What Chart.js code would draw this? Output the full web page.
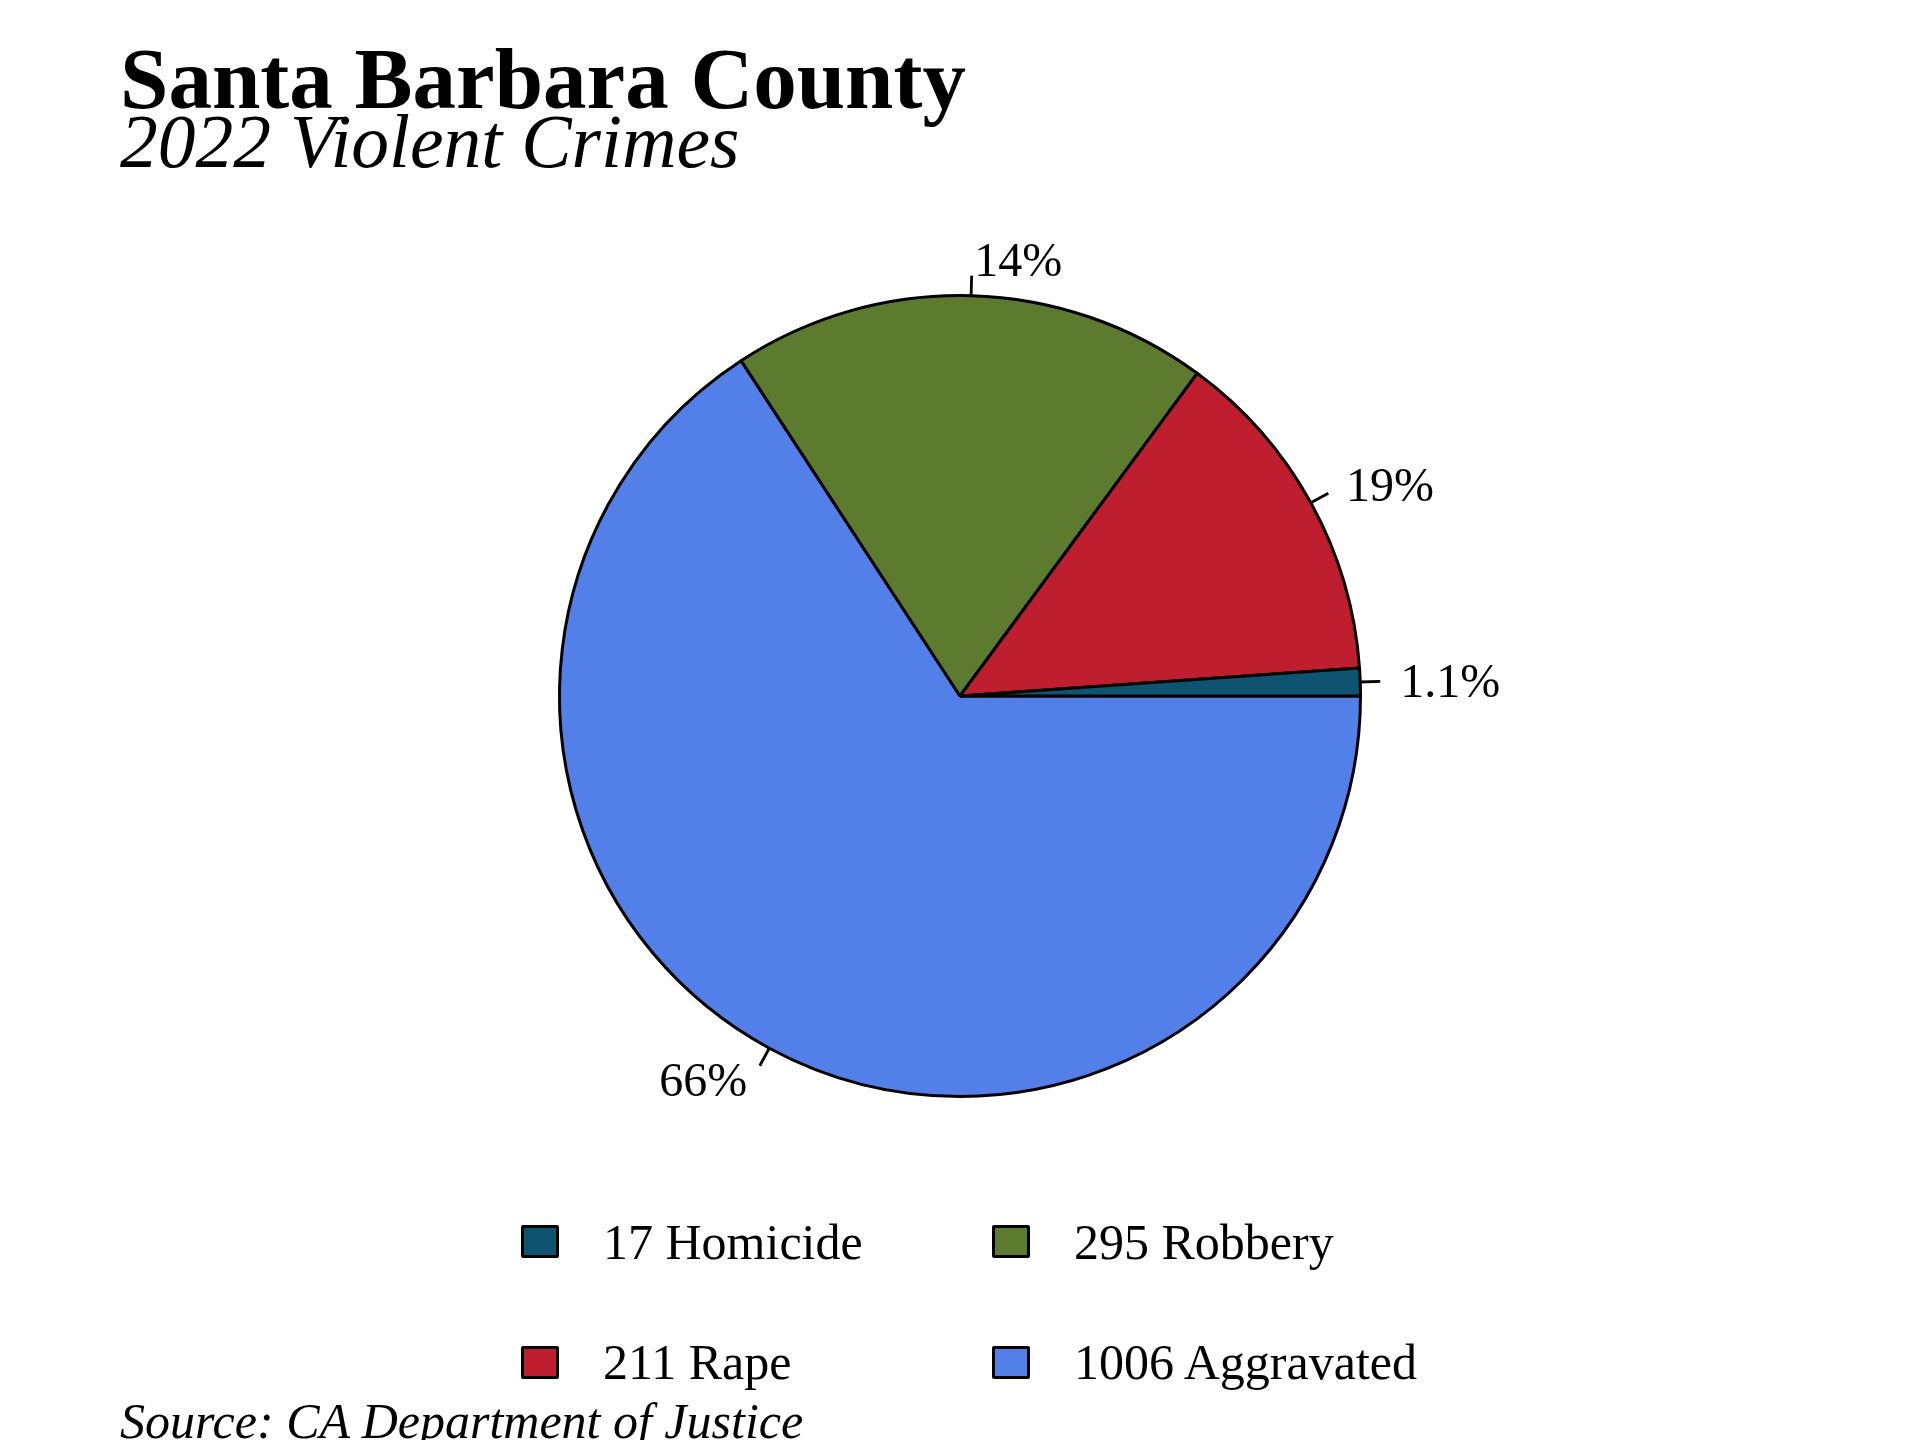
<!DOCTYPE html>
<html>
<head>
<meta charset="utf-8">
<script src="https://cdn.jsdelivr.net/npm/chart.js@4"></script>
<style>
  html, body { margin: 0; padding: 0; background: #fff; }
  #wrap { position: relative; width: 1920px; height: 1440px; overflow: hidden; background: #fff; }
  #c { position: absolute; left: 0; top: 0; }
  .txt { position: absolute; font-family: "Liberation Serif", "Times New Roman", serif; color: #000; line-height: 1; white-space: nowrap; }
  .box { position: absolute; box-sizing: border-box; border: 3px solid #000; border-radius: 2px; }
</style>
</head>
<body>
<div id="wrap">
  <canvas id="c" width="1920" height="1440"></canvas>
  <div class="txt" style="left:120px; top:35px; font-size:87px; font-weight:bold;">Santa Barbara County</div>
  <div class="txt" style="left:120px; top:104px; font-size:75.5px; font-style:italic;">2022 Violent Crimes</div>
  <div class="txt" style="left:120px; top:1396px; font-size:50px; font-style:italic;">Source: CA Department of Justice</div>
  <div id="legend"></div>
</div>
<script>
// ---- data (counter-clockwise from 3 o'clock, as drawn in the reference) ----
const categories = ['Homicide', 'Rape', 'Robbery', 'Aggravated'];
const counts = [17, 211, 295, 1006];
const sliceLabels = ['1.1%', '19%', '14%', '66%'];
const legendOrder = ['Homicide', 'Robbery', 'Rape', 'Aggravated'];

// ---- styles ----
const colorMap = {
  'Homicide': '#0E5470',
  'Rape': '#BE1E2D',
  'Robbery': '#5D7B2F',
  'Aggravated': '#5280E8'
};

// Chart.js draws clockwise, so reverse to get the counter-clockwise order
const drawCats = categories.slice().reverse();
const drawVals = counts.slice().reverse();
const drawLbls = sliceLabels.slice().reverse();

const labelFont = '48px "Liberation Serif", "Times New Roman", serif';

const pctLabelPlugin = {
  id: 'pctLabels',
  afterDatasetsDraw(chart) {
    const ctx = chart.ctx;
    const meta = chart.getDatasetMeta(0);
    ctx.save();
    ctx.font = labelFont;
    ctx.fillStyle = '#000';
    ctx.strokeStyle = '#000';
    ctx.lineWidth = 2.8;
    ctx.textBaseline = 'alphabetic';
    meta.data.forEach((arc, i) => {
      const p = arc.getProps(['x', 'y', 'startAngle', 'endAngle', 'outerRadius'], true);
      const mid = (p.startAngle + p.endAngle) / 2;
      const c = Math.cos(mid), s = Math.sin(mid);
      const r0 = p.outerRadius, r1 = p.outerRadius + 20;
      const x0 = p.x + c * r0, y0 = p.y + s * r0;
      const x1 = p.x + c * r1, y1 = p.y + s * r1;
      ctx.beginPath();
      ctx.moveTo(x0, y0);
      ctx.lineTo(x1, y1);
      ctx.stroke();
      const sinUp = -s;
      const gap = 4 + 18 * Math.abs(c);
      ctx.textAlign = c >= 0 ? 'left' : 'right';
      const tx = c >= 0 ? x1 + gap - 2 : x1 - gap;
      const ty = y1 + 16 - 16 * sinUp;
      ctx.fillText(drawLbls[i], tx, ty);
    });
    ctx.restore();
  }
};

new Chart(document.getElementById('c'), {
  type: 'pie',
  data: {
    labels: drawCats,
    datasets: [{
      data: drawVals,
      backgroundColor: drawCats.map(k => colorMap[k]),
      borderColor: '#000',
      borderWidth: 3
    }]
  },
  options: {
    responsive: false,
    animation: false,
    events: [],
    rotation: 90,
    layout: { padding: { left: 558, right: 558, top: 294, bottom: 342 } },
    plugins: {
      legend: { display: false },
      title: { display: false },
      tooltip: { enabled: false }
    }
  },
  plugins: [pctLabelPlugin]
});

// ---- legend (2 columns, built from the arrays) ----
const legend = document.getElementById('legend');
legendOrder.forEach((name, i) => {
  const col = i % 2, row = Math.floor(i / 2);
  const bx = 521 + col * 471, by = 1225 + row * 121;
  const box = document.createElement('div');
  box.className = 'box';
  box.style.left = bx + 'px';
  box.style.top = by + 'px';
  box.style.width = '38px';
  box.style.height = '33px';
  box.style.background = colorMap[name];
  legend.appendChild(box);
  const t = document.createElement('div');
  t.className = 'txt';
  t.style.left = (bx + 82) + 'px';
  t.style.top = (1217 + row * 120) + 'px';
  t.style.fontSize = '50px';
  t.textContent = counts[categories.indexOf(name)] + ' ' + name;
  legend.appendChild(t);
});
</script>
</body>
</html>
